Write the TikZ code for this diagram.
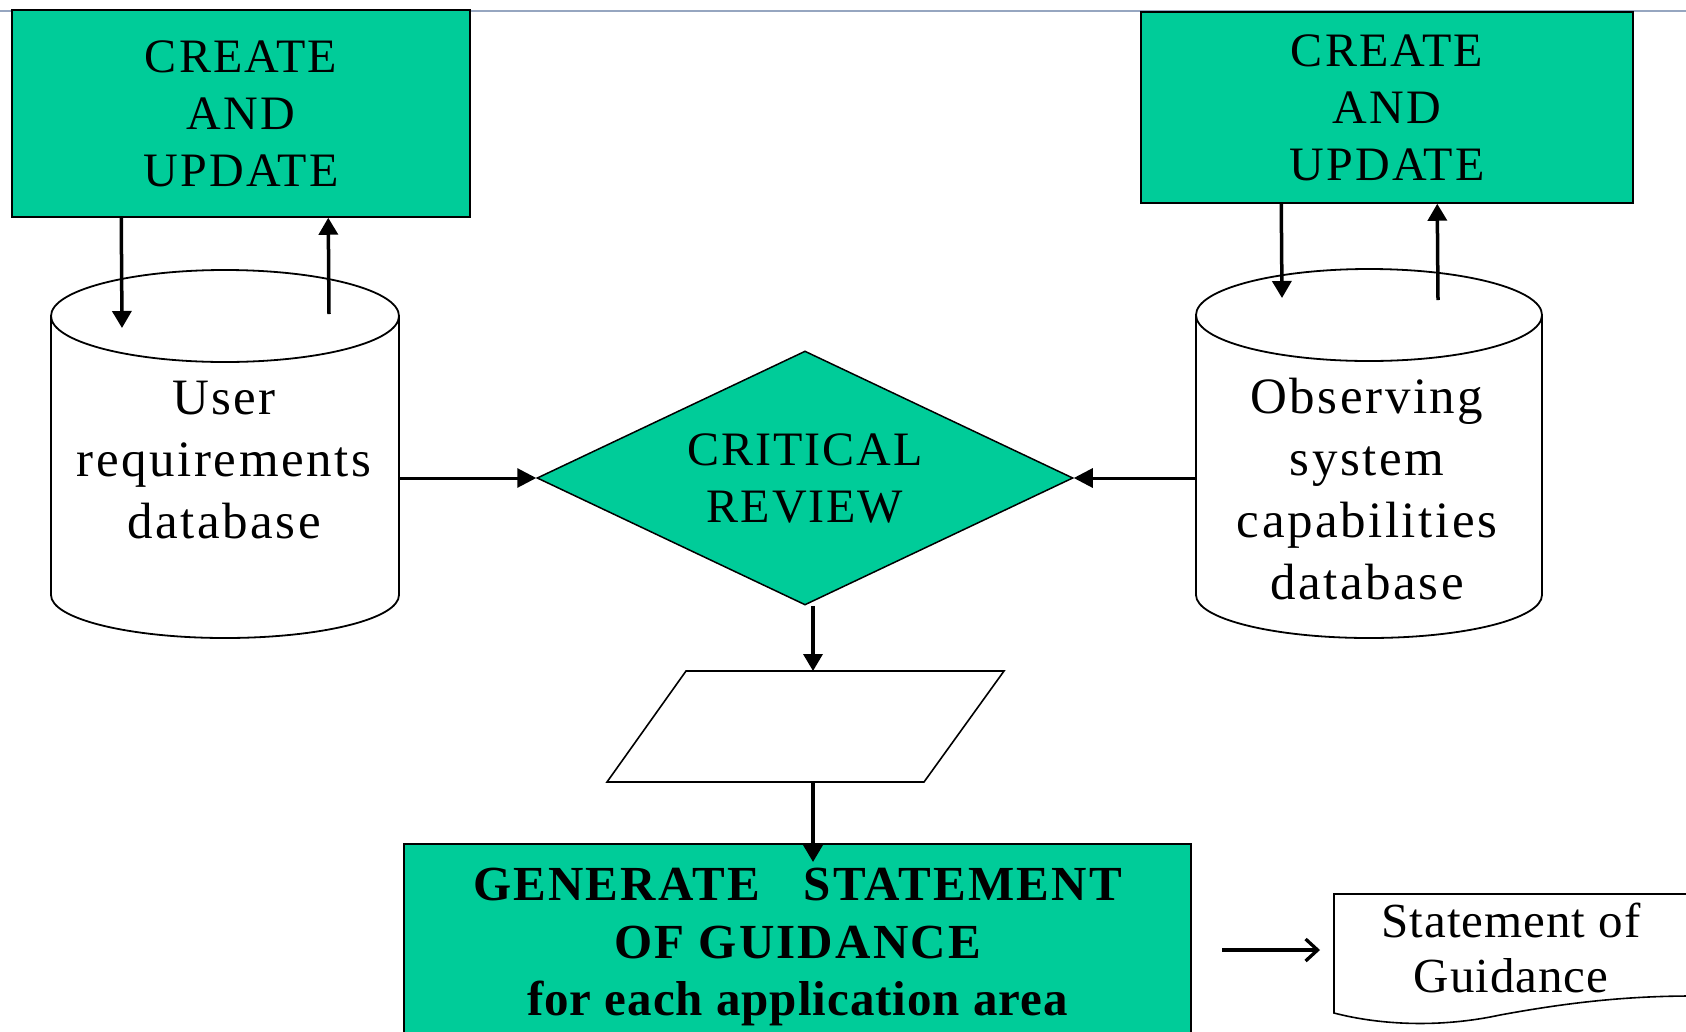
\documentclass[tikz,border=0pt]{standalone}
\usepackage{fontspec}
\setmainfont{Liberation Serif}
\newfontfamily\fcyl[LetterSpace=5]{Liberation Serif}
\newfontfamily\fcre[LetterSpace=4.5]{Liberation Serif}
\newfontfamily\fcrit[LetterSpace=4]{Liberation Serif}
\newfontfamily\fgen[LetterSpace=2]{Liberation Serif}
\newfontfamily\fgencaps[LetterSpace=4.5]{Liberation Serif}
\newfontfamily\fdoc[LetterSpace=2]{Liberation Serif}
\usetikzlibrary{shapes.geometric,arrows.meta,calc}
\definecolor{tealgreen}{RGB}{0,204,153}
\definecolor{toplinecol}{RGB}{150,166,192}
\begin{document}
\begin{tikzpicture}[x=1pt,y=-1pt,
  greenbox/.style={rectangle,draw=black,line width=1.5pt,fill=tealgreen,inner sep=0pt,align=center},
  cretext/.style={font=\fcre\fontsize{48}{57}\selectfont},
  cylbody/.style={rectangle,inner sep=0pt,outer sep=0pt,draw=none},
  cylline/.style={draw=black,line width=1.8pt},
  cyltext/.style={align=center,inner sep=0pt,font=\fcyl\fontsize{51}{62}\selectfont},
  arrv/.style={line width=3.5pt,-{Triangle[length=17pt,width=19pt]}},
  arrh/.style={line width=3pt,-{Triangle[length=19pt,width=19pt]}},
  arrbarb/.style={line width=3.3pt,-{Straight Barb[length=12pt,width=22pt]}},
  thinline/.style={draw=black,line width=1.6pt}
]
\useasboundingbox (0,0) rectangle (1686,1031);
\clip (0,0) rectangle (1686,1031);
\fill[white] (0,0) rectangle (1686,1031);

% top line
\draw[toplinecol,line width=2pt] (0,11) -- (1686,11);

% top boxes
\node[greenbox,cretext,minimum width=458pt,minimum height=207pt] (lbox) at (241,113.5) {CREATE\\AND\\UPDATE};
\node[greenbox,cretext,minimum width=492pt,minimum height=191pt] (rbox) at (1387,107.5) {CREATE\\AND\\UPDATE};

% left cylinder
\node[cylbody,minimum width=348pt,minimum height=279pt] (udb) at (225,455.5) {};
\draw[cylline,fill=white] (udb.north west) -- (udb.south west)
  arc[start angle=180,end angle=360,x radius=174pt,y radius=43pt] -- (udb.north east);
\draw[cylline,fill=white] (udb.north) ellipse[x radius=174pt,y radius=46pt];
\node[cyltext] (utext) at (224,460) {User\\requirements\\database};

% right cylinder
\node[cylbody,minimum width=346pt,minimum height=280pt] (odb) at (1369,455) {};
\draw[cylline,fill=white] (odb.north west) -- (odb.south west)
  arc[start angle=180,end angle=360,x radius=173pt,y radius=43pt] -- (odb.north east);
\draw[cylline,fill=white] (odb.north) ellipse[x radius=173pt,y radius=46pt];
\node[cyltext] (otext) at (1367,489) {Observing\\system\\capabilities\\database};

% diamond
\node[diamond,draw=black,line width=1.5pt,fill=tealgreen,inner sep=0pt,aspect=2.11,
      minimum width=536pt,minimum height=254pt,align=center,
      font=\fcrit\fontsize{48}{57}\selectfont] (dia) at (805,478) {CRITICAL\\REVIEW};

% parallelogram
\coordinate (ptl) at (686,671);
\coordinate (ptr) at (1004,671);
\coordinate (pbr) at (924,782);
\coordinate (pbl) at (607,782);
\draw[thinline,fill=white] (ptl) -- (ptr) -- (pbr) -- (pbl) -- cycle;
\coordinate (pin) at (813,671);
\coordinate (pout) at (813,782);

% bottom box
\node[greenbox,minimum width=787pt,minimum height=206pt,
      font=\bfseries\fontsize{49}{57.5}\selectfont] (gbox) at (797.5,947)
      {{\fgencaps\bfseries GENERATE\hspace{44pt}STATEMENT}\\{\fgencaps\bfseries OF GUIDANCE}\\{\fgen\bfseries for each application area}};
\coordinate (gin) at (813,862);

% document shape
\draw[thinline,fill=white] (1334,894) -- (1692,894) -- (1692,996)
  .. controls (1620,996) and (1560,1004) .. (1500,1015)
  .. controls (1440,1028) and (1380,1025) .. (1334,1013) -- cycle;
\node[align=center,inner sep=0pt,font=\fdoc\fontsize{49}{55}\selectfont] (doctext) at (1511,948)
  {Statement of\\Guidance};
\coordinate (sa) at (1222,950);
\coordinate (sb) at (1320,950);

% connectors
\draw[arrv] ($(lbox.south west)+(110,0)$) -- ($(udb.north west)+(71,12)$);
\draw[arrv] ($(udb.north west)+(278,-2)$) -- ($(lbox.south west)+(317,0)$);
\draw[arrv] ($(rbox.south west)+(141,0)$) -- ($(odb.north west)+(86,-17)$);
\draw[arrv] ($(odb.north west)+(242,-15)$) -- ($(rbox.south west)+(297,0)$);
\draw[arrh] (udb.east |- dia.west) -- (dia.west);
\draw[arrh] (odb.west |- dia.east) -- (dia.east);
\draw[arrv] ($(dia.south)+(8,0)$) -- (pin);
\draw[arrv] (pout) -- (gin);
\draw[arrbarb] (sa) -- (sb);
\end{tikzpicture}
\end{document}
